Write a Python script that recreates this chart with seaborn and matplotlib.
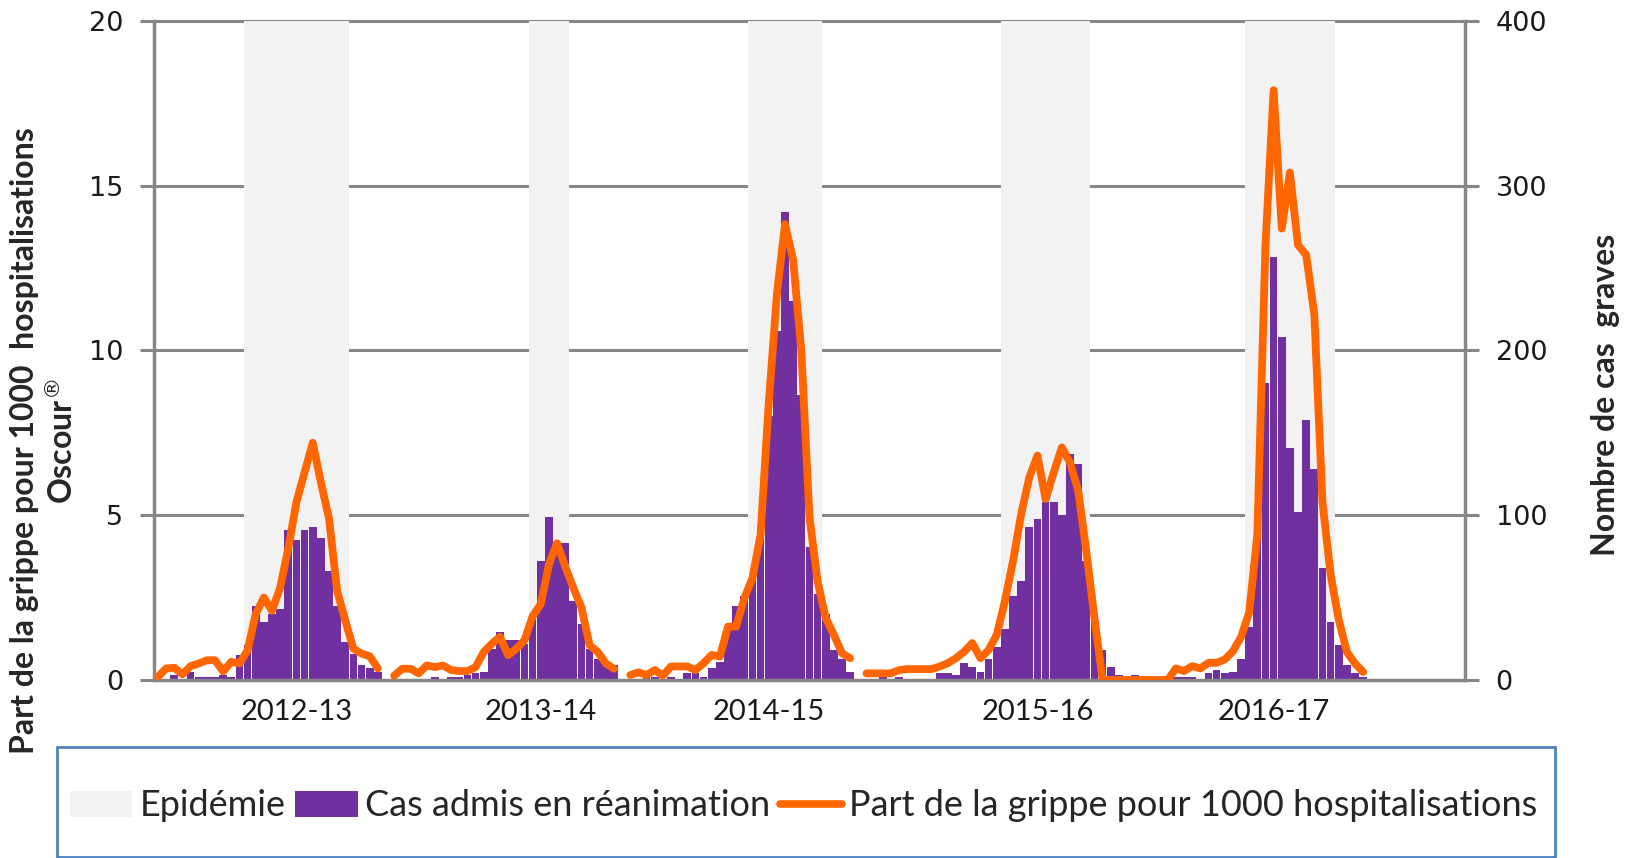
import matplotlib
matplotlib.use("Agg")
import matplotlib.pyplot as plt
from matplotlib.patches import Patch, Rectangle
from matplotlib.lines import Line2D
import seaborn as sns
import pandas as pd

seasons = ['2012-13', '2013-14', '2014-15', '2015-16', '2016-17']

# Cas admis en réanimation (axe de droite), une valeur par semaine
cas_2012_13 = [0, 0, 3, 0, 5, 2, 2, 2, 3, 2, 15, 21, 45, 35, 40, 43, 91, 85, 91, 93,
               86, 66, 45, 23, 16, 9, 7, 5]
cas_2013_14 = [0, 0, 0, 0, 0, 2, 0, 2, 2, 3, 4, 5, 19, 29, 24, 24, 22, 40, 72, 99,
               83, 83, 48, 34, 19, 13, 9, 9]
cas_2014_15 = [0, 0, 2, 2, 0, 2, 0, 4, 4, 2, 7, 11, 33, 45, 51, 61, 93, 160, 212, 284,
               230, 173, 81, 52, 40, 18, 13, 5]
cas_2015_16 = [0, 0, 2, 0, 2, 0, 0, 0, 0, 4, 4, 3, 10, 8, 5, 13, 20, 31, 51, 60,
               93, 98, 108, 108, 100, 137, 131, 72, 37]
cas_2016_17 = [18, 8, 3, 2, 3, 2, 0, 0, 0, 2, 2, 2, 0, 4, 6, 4, 5, 13, 32, 87,
               180, 257, 208, 141, 102, 158, 128, 68, 35, 21, 9, 4, 2]

# Part de la grippe pour 1000 hospitalisations Oscour (axe de gauche)
part_2012_13 = [0.1, 0.35, 0.37, 0.17, 0.42, 0.5, 0.6, 0.6, 0.26, 0.55, 0.5, 0.9, 2.0, 2.5,
                2.1, 2.8, 4.0, 5.4, 6.3, 7.2, 6.0, 4.9, 2.7, 1.8, 0.95, 0.8, 0.72, 0.35]
part_2013_14 = [0.13, 0.34, 0.34, 0.2, 0.44, 0.39, 0.44, 0.3, 0.27, 0.27, 0.39, 0.85, 1.1, 1.31,
                0.75, 0.95, 1.2, 1.93, 2.3, 3.5, 4.15, 3.45, 2.8, 2.2, 1.06, 0.85, 0.5, 0.34]
part_2014_15 = [0.15, 0.23, 0.15, 0.3, 0.13, 0.41, 0.41, 0.41, 0.3, 0.51, 0.76, 0.71, 1.62, 1.62,
                2.48, 3.09, 4.41, 8.4, 11.7, 13.84, 12.75, 10.0, 4.95, 2.99, 1.88, 1.37, 0.81, 0.66]
part_2015_16 = [0.2, 0.2, 0.2, 0.2, 0.3, 0.33, 0.33, 0.33, 0.33, 0.41, 0.51, 0.66, 0.86, 1.12,
                0.66, 0.91, 1.37, 2.39, 3.61, 5.03, 6.15, 6.81, 5.49, 6.3, 7.06, 6.6, 5.75, 3.91, 1.88]
part_2016_17 = [0, 0, 0, 0, 0, 0, 0, 0, 0, 0.35, 0.27, 0.42, 0.35, 0.52, 0.52, 0.62, 0.87,
                1.3, 2.05, 4.4, 13.2, 17.9, 13.7, 15.4, 13.2, 12.9, 11.1, 5.4, 3.2, 1.83,
                0.85, 0.5, 0.24]

# semaines vides après chaque saison
semaines_vides = [1, 1, 1, 0, 12]
# semaines d'épidémie (rang dans la saison, bornes incluses)
epi_debut = [11, 17, 15, 17, 18]
epi_fin = [23, 21, 23, 27, 28]
# semaine portant l'étiquette de la saison
semaine_label = [17, 18, 17, 21, 21]

ticks_gauche = [0, 5, 10, 15, 20]
ticks_droite = [0, 100, 200, 300, 400]

cas = [cas_2012_13, cas_2013_14, cas_2014_15, cas_2015_16, cas_2016_17]
parts = [part_2012_13, part_2013_14, part_2014_15, part_2015_16, part_2016_17]

# construction du tableau hebdomadaire
rows = []
spans = []
label_pos = []
pos = 0
segment = 0
for i, s in enumerate(seasons):
    start = pos
    for c, p in zip(cas[i], parts[i]):
        rows.append({'semaine': pos, 'cas': c, 'part': p, 'segment': segment})
        pos += 1
    spans.append((start + epi_debut[i] - 0.5, start + epi_fin[i] + 0.5))
    label_pos.append(start + semaine_label[i])
    for _ in range(semaines_vides[i]):
        rows.append({'semaine': pos, 'cas': 0, 'part': None, 'segment': -1})
        pos += 1
    if semaines_vides[i] > 0:
        segment += 1
df = pd.DataFrame(rows)
n_weeks = pos

GRAY = '#878787'
PURPLE = '#7030A0'
ORANGE = '#FF6600'
SHADE = '#F2F2F2'

sns.set_style('white')
plt.rcParams['font.family'] = ['DejaVu Sans']

fig = plt.figure(figsize=(16.29, 8.58), dpi=100)
ax = fig.add_axes([0.0945, 0.2075, 0.8048, 0.768])
ax2 = ax.twinx()

# bandes épidémie et grille
for a, b in spans:
    ax.axvspan(a, b, color=SHADE, lw=0, zorder=1)
for t in ticks_droite[1:]:
    ax.axhline(t, color=GRAY, lw=2.2, zorder=0.5, clip_on=False)

sns.barplot(data=df, x='semaine', y='cas', native_scale=True, color=PURPLE,
            saturation=1, width=0.94, errorbar=None, linewidth=0, ax=ax, zorder=2)

sns.lineplot(data=df[df['segment'] >= 0], x='semaine', y='part', units='segment',
             estimator=None, color=ORANGE, lw=5.6, ax=ax2, legend=False,
             solid_joinstyle='round', solid_capstyle='round', zorder=3)

ax.set_xlim(-0.5, n_weeks - 0.5)
ax.set_ylim(0, 400)
ax2.set_ylim(0, 20)
ax.set_xlabel('')
ax.set_ylabel('')
ax2.set_xlabel('')
ax2.set_ylabel('')

ax.yaxis.tick_right()
ax2.yaxis.tick_left()
ax.set_yticks(ticks_droite)
ax2.set_yticks(ticks_gauche)
ax.set_xticks(label_pos)
ax.set_xticklabels(seasons)

ax.tick_params(axis='x', length=0, pad=14, labelsize=21, labelcolor='#1a1a1a')
for lbl in ax.get_xticklabels():
    lbl.set_fontfamily('Lato')
ax.tick_params(axis='y', direction='out', length=10, width=2.2, color=GRAY,
               pad=12, labelsize=19.5, labelcolor='#1a1a1a')
ax2.tick_params(axis='y', direction='out', length=10, width=2.2, color=GRAY,
                pad=12, labelsize=19.5, labelcolor='#1a1a1a')

for sp in ['left', 'right', 'bottom']:
    ax.spines[sp].set_color(GRAY)
    ax.spines[sp].set_linewidth(2.5)
ax.spines['top'].set_visible(False)
for sp in ax2.spines.values():
    sp.set_visible(False)

fig.text(44 / 1629, 1 - 441 / 858,
         "Part de la grippe pour 1000  hospitalisations\nOscour$^{®}$",
         rotation=90, ha='center', va='center', multialignment='center',
         fontsize=23, fontweight='bold', family='Lato', linespacing=1.2)
fig.text(1605 / 1629, 1 - 395 / 858, "Nombre de cas  graves",
         rotation=90, ha='center', va='center',
         fontsize=23, fontweight='bold', family='Lato')

# cadre de légende
fig.add_artist(Rectangle((57 / 1629, 0.001), (1555 - 57) / 1629, (858 - 748) / 858,
                         transform=fig.transFigure, fill=False,
                         edgecolor='#4F81BD', lw=2, clip_on=False))
handles = [Patch(facecolor=SHADE, edgecolor='none'),
           Patch(facecolor=PURPLE, edgecolor='none'),
           Line2D([], [], color=ORANGE, lw=5.5)]
labels = ['Epidémie', 'Cas admis en réanimation',
          'Part de la grippe pour 1000 hospitalisations']
fig.legend(handles, labels, loc='center left', bbox_to_anchor=(70 / 1629, 1 - 806 / 858),
           ncol=3, frameon=False, prop={'family': 'Lato', 'size': 26},
           handlelength=1.72, handleheight=0.72, handletextpad=0.2,
           columnspacing=0.28, borderpad=0, borderaxespad=0)

fig.savefig('out.png', dpi=100)
